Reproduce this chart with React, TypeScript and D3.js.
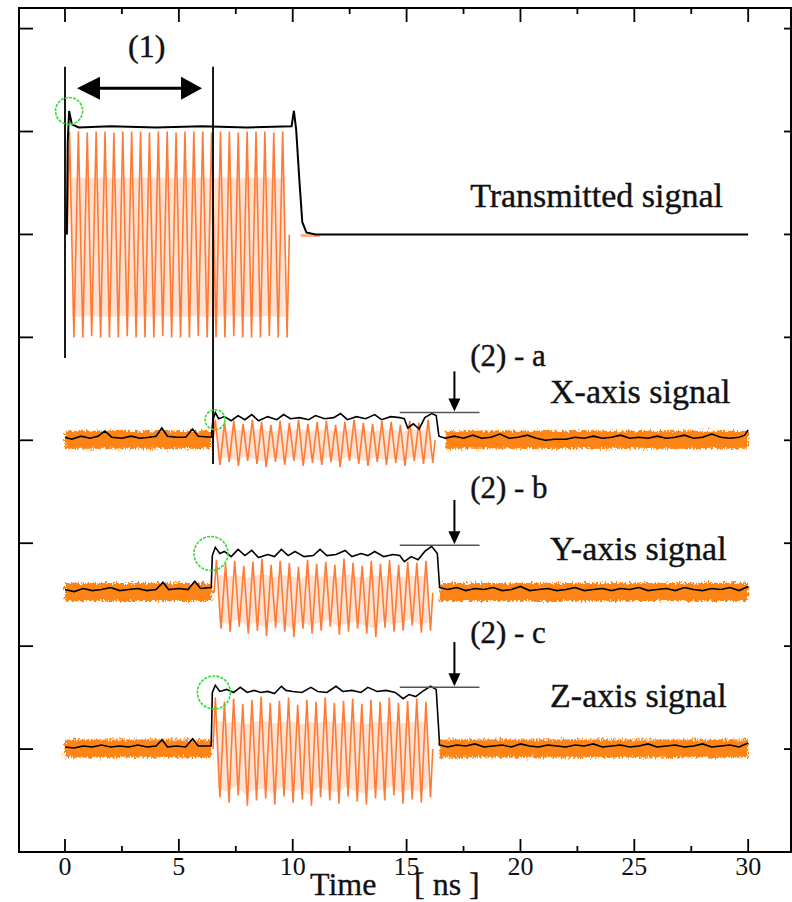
import React from 'react';
import * as d3 from 'd3';

// axis ticks (ns on x, arbitrary level units on y)
const X_TICKS = [0, 5, 10, 15, 20, 25, 30];
const X_MINOR = [2.5, 7.5, 12.5, 17.5, 22.5, 27.5];
const Y_TICKS = [1, 2, 3, 4, 5, 6, 7, 8];

// transmitted signal: black envelope [ns, level]
const TX_ENVELOPE: [number, number][] = [
    [0.08, 6.0], [0.12, 6.9], [0.18, 7.2], [0.3, 7.07], [0.6, 7.04], [2, 7.05], [4, 7.04],
    [6, 7.05], [8, 7.04], [9.95, 7.05], [10.05, 7.2], [10.15, 7.02], [10.3, 6.5], [10.42, 6.12],
    [10.6, 6.02], [11.0, 6.0], [30.0, 6.0]
];
const TX_BASE = 6.0;
const TX_SPAN = [0.1, 9.85];
const TX_TOPS = [1.0, 1.0, 0.99, 1.0, 1.0, 0.99, 1.0, 1.0, 1.0, 0.99, 1.0, 1.0, 0.99, 1.0, 1.0, 1.0, 0.99, 1.0, 1.0, 0.99, 1.0, 1.0, 1.0, 0.99, 1.0];
const TX_BOTTOMS = [-1.0, -1.0, -0.99, -1.0, -1.0, -1.0, -0.99, -1.0, -1.0, -1.0, -0.99, -1.0, -1.0, -1.0, -0.99, -1.0, -1.0, -1.0, -0.99, -1.0, -1.0, -1.0, -0.99, -1.0, -1.0];

// received signals: black trace [ns, offset above baseline]
const X_BASE = 4.0;
const X_SPAN = [6.5, 16.25];
const X_TRACE: [number, number][] = [
    [0, 0.03], [0.3, 0.01], [0.7, 0.04], [1.1, 0.02], [1.45, 0.04], [1.75, 0.09], [2.05, 0.03], [2.5, 0.02],
    [2.9, 0.04], [3.3, 0.02], [3.7, 0.03], [4.0, 0.04], [4.25, 0.12], [4.5, 0.04], [4.9, 0.03], [5.3, 0.03],
    [5.6, 0.11], [5.85, 0.04], [6.42, 0.03], [6.5, 0.2], [6.6, 0.27], [6.75, 0.21], [7.0, 0.23], [7.3, 0.19],
    [7.6, 0.24], [7.9, 0.2], [8.2, 0.25], [8.5, 0.19], [8.9, 0.23], [9.3, 0.2], [9.6, 0.25], [9.9, 0.21],
    [10.3, 0.22], [10.7, 0.2], [11.0, 0.24], [11.4, 0.21], [11.8, 0.22], [12.1, 0.26], [12.4, 0.2], [12.8, 0.23],
    [13.2, 0.21], [13.6, 0.25], [13.9, 0.2], [14.3, 0.23], [14.7, 0.22], [14.9, 0.21], [15.05, 0.12], [15.3, 0.16],
    [15.55, 0.11], [15.8, 0.22], [16.1, 0.26], [16.3, 0.24], [16.42, 0.04], [16.7, 0.02], [17.1, 0.04], [17.5, 0.02],
    [17.9, 0.05], [18.3, 0.02], [18.7, 0.03], [19.1, 0.06], [19.5, 0.02], [19.9, 0.03], [20.3, 0.05], [20.7, 0.02],
    [21.1, 0.0], [21.5, 0.01], [22.0, 0.01], [22.4, 0.03], [22.8, 0.02], [23.2, 0.04], [23.6, 0.02], [24.0, 0.03],
    [24.4, 0.05], [24.8, 0.02], [25.2, 0.03], [25.6, 0.02], [26.0, 0.04], [26.4, 0.02], [26.8, 0.03], [27.2, 0.05],
    [27.6, 0.02], [28.0, 0.03], [28.4, 0.06], [28.8, 0.03], [29.2, 0.02], [29.6, 0.03], [29.85, 0.05], [30.0, 0.1]
];
const X_TOPS = [0.2, 0.17, 0.19, 0.16, 0.2, 0.18, 0.15, 0.19, 0.17, 0.2, 0.16, 0.18, 0.19, 0.15, 0.18, 0.2, 0.17, 0.16, 0.19, 0.18, 0.15, 0.19, 0.17, 0.2];
const X_BOTTOMS = [-0.24, -0.21, -0.25, -0.2, -0.23, -0.26, -0.21, -0.24, -0.2, -0.25, -0.22, -0.24, -0.21, -0.26, -0.2, -0.23, -0.25, -0.21, -0.24, -0.22, -0.25, -0.2, -0.23, -0.22];

const Y_BASE = 2.52;
const Y_SPAN = [6.55, 16.15];
const Y_TRACE: [number, number][] = [
    [0, 0.03], [0.4, 0.01], [0.8, 0.04], [1.2, 0.02], [1.6, 0.03], [2.0, 0.05], [2.4, 0.02], [2.8, 0.03],
    [3.2, 0.04], [3.6, 0.02], [4.0, 0.03], [4.3, 0.1], [4.55, 0.03], [5.0, 0.04], [5.4, 0.03], [5.7, 0.11],
    [5.95, 0.04], [6.42, 0.05], [6.47, 0.36], [6.6, 0.44], [6.8, 0.38], [7.0, 0.4], [7.3, 0.35], [7.6, 0.42],
    [7.9, 0.36], [8.2, 0.41], [8.5, 0.34], [8.9, 0.37], [9.2, 0.35], [9.5, 0.42], [9.8, 0.36], [10.1, 0.4],
    [10.5, 0.35], [10.9, 0.36], [11.2, 0.42], [11.5, 0.36], [11.9, 0.37], [12.3, 0.41], [12.6, 0.35], [13.0, 0.38],
    [13.3, 0.36], [13.6, 0.4], [14.0, 0.35], [14.4, 0.37], [14.7, 0.36], [14.9, 0.3], [15.2, 0.35], [15.5, 0.32],
    [15.8, 0.4], [16.1, 0.45], [16.35, 0.38], [16.45, 0.05], [16.8, 0.03], [17.2, 0.05], [17.6, 0.02], [18.0, 0.04],
    [18.4, 0.03], [18.8, 0.05], [19.2, 0.02], [19.6, 0.03], [20.0, 0.06], [20.4, 0.02], [20.8, 0.03], [21.2, 0.04],
    [21.6, 0.02], [22.0, 0.03], [22.4, 0.05], [22.8, 0.02], [23.2, 0.03], [23.6, 0.04], [24.0, 0.02], [24.4, 0.04],
    [24.8, 0.03], [25.2, 0.05], [25.6, 0.02], [26.0, 0.03], [26.4, 0.04], [26.8, 0.02], [27.2, 0.05], [27.6, 0.03],
    [28.0, 0.02], [28.4, 0.04], [28.8, 0.03], [29.2, 0.05], [29.6, 0.02], [30.0, 0.06]
];
const Y_TOPS = [0.32, 0.28, 0.31, 0.26, 0.3, 0.33, 0.27, 0.31, 0.29, 0.25, 0.32, 0.28, 0.3, 0.27, 0.33, 0.29, 0.26, 0.31, 0.28, 0.32, 0.27, 0.3, 0.29, 0.31];
const Y_BOTTOMS = [-0.35, -0.38, -0.33, -0.4, -0.37, -0.42, -0.34, -0.38, -0.43, -0.35, -0.4, -0.37, -0.33, -0.41, -0.38, -0.35, -0.4, -0.43, -0.34, -0.38, -0.37, -0.32, -0.39, -0.37];

const Z_BASE = 1.0;
const Z_SPAN = [6.5, 16.15];
const Z_TRACE: [number, number][] = [
    [0, 0.02], [0.4, 0.01], [0.8, 0.03], [1.2, 0.02], [1.6, 0.04], [2.0, 0.02], [2.4, 0.03], [2.8, 0.02],
    [3.2, 0.04], [3.6, 0.02], [4.0, 0.03], [4.26, 0.09], [4.5, 0.02], [4.9, 0.03], [5.3, 0.02], [5.6, 0.1],
    [5.85, 0.03], [6.42, 0.03], [6.47, 0.55], [6.6, 0.62], [6.8, 0.56], [7.1, 0.58], [7.4, 0.55], [7.7, 0.6],
    [8.0, 0.55], [8.3, 0.57], [8.6, 0.55], [8.9, 0.56], [9.2, 0.54], [9.5, 0.61], [9.7, 0.57], [10.0, 0.56],
    [10.4, 0.55], [10.8, 0.6], [11.1, 0.56], [11.5, 0.55], [11.9, 0.61], [12.2, 0.56], [12.6, 0.57], [13.0, 0.55],
    [13.3, 0.6], [13.7, 0.56], [14.1, 0.57], [14.5, 0.55], [14.85, 0.49], [15.1, 0.53], [15.4, 0.51], [15.7, 0.56],
    [16.05, 0.61], [16.3, 0.58], [16.45, 0.04], [16.8, 0.02], [17.2, 0.04], [17.6, 0.03], [18.0, 0.05], [18.4, 0.02],
    [18.8, 0.03], [19.2, 0.04], [19.6, 0.02], [20.0, 0.05], [20.4, 0.03], [20.8, 0.02], [21.2, 0.04], [21.6, 0.03],
    [22.0, 0.02], [22.4, 0.04], [22.8, 0.03], [23.2, 0.05], [23.6, 0.02], [24.0, 0.03], [24.4, 0.04], [24.8, 0.02],
    [25.2, 0.03], [25.6, 0.05], [26.0, 0.02], [26.4, 0.03], [26.8, 0.04], [27.2, 0.02], [27.6, 0.03], [28.0, 0.05],
    [28.4, 0.02], [28.8, 0.03], [29.2, 0.04], [29.6, 0.02], [30.0, 0.06]
];
const Z_TOPS = [0.5, 0.46, 0.49, 0.44, 0.48, 0.51, 0.45, 0.47, 0.5, 0.43, 0.48, 0.46, 0.5, 0.45, 0.47, 0.49, 0.44, 0.48, 0.46, 0.5, 0.45, 0.47, 0.49, 0.46];
const Z_BOTTOMS = [-0.47, -0.52, -0.45, -0.55, -0.5, -0.48, -0.54, -0.46, -0.52, -0.49, -0.55, -0.47, -0.5, -0.53, -0.46, -0.51, -0.54, -0.48, -0.5, -0.45, -0.53, -0.49, -0.52, -0.47];

// annotations
const MARK_LINES = [{ t: 0, from: 4.8, to: 7.63 }, { t: 6.5, from: 3.77, to: 7.63 }];
const SPAN_ARROW = { from: 0, to: 6.5, level: 7.42 };
const CIRCLES = [{ t: 0.18, v: 7.2, r: 13.5 }, { t: 6.59, v: 4.2, r: 10 }, { t: 6.41, v: 2.9, r: 17 }, { t: 6.54, v: 1.55, r: 16.5 }];
const REF_LINES = [4.27, 2.98, 1.6];
const REF_SPAN = [14.7, 18.2];
const ARROW_T = 17.1;
const ARROW_TOP = [4.67, 3.42, 2.04];
const TAGS = ['(2) - a', '(2) - b', '(2) - c'];
const TAG_LEVELS = [4.72, 3.44, 2.03];
const NAMES = ['Transmitted signal', 'X-axis signal', 'Y-axis signal', 'Z-axis signal'];
const NAME_POS = [[17.79, 6.27], [21.3, 4.36], [21.3, 2.84], [21.3, 1.41]];

const FONT = '"Liberation Serif", "DejaVu Serif", serif';
const ORANGE = '#ff7a35';
const PALE = '#ffcdb3';
const BAND = '#ff8418';

const x = d3.scaleLinear().domain([-2.02, 31.88]).range([19, 791]);
const y = d3.scaleLinear().domain([0, 8.2]).range([852, 8]);

const line = d3.line<[number, number]>().x(d => x(d[0])).y(d => y(d[1]));
const area = d3.area<[number, number, number]>().x(d => x(d[0])).y0(d => y(d[1])).y1(d => y(d[2]));

function carrier(span: number[], tops: number[], bottoms: number[], base: number): [number, number][] {
    const n = tops.length;
    const p = (span[1] - span[0]) / n;
    const pts: [number, number][] = [[span[0], base]];
    tops.forEach((tp, i) => {
        pts.push([span[0] + (i + 0.25) * p, base + tp]);
        pts.push([span[0] + (i + 0.75) * p, base + bottoms[i]]);
    });
    pts.push([span[1], base]);
    return pts;
}

// pale body inside the carrier, between the inner parts of each swing
function carrierBody(span: number[], tops: number[], bottoms: number[], base: number): [number, number, number][] {
    const n = tops.length;
    const p = (span[1] - span[0]) / n;
    return tops.map((tp, i) => [span[0] + (i + 0.5) * p, base + bottoms[i] * 0.8, base + tp * 0.55]);
}

const shift = (tr: [number, number][], base: number): [number, number][] => tr.map(d => [d[0], base + d[1]]);

const RX = [
    { base: X_BASE, span: X_SPAN, trace: X_TRACE, tops: X_TOPS, bottoms: X_BOTTOMS },
    { base: Y_BASE, span: Y_SPAN, trace: Y_TRACE, tops: Y_TOPS, bottoms: Y_BOTTOMS },
    { base: Z_BASE, span: Z_SPAN, trace: Z_TRACE, tops: Z_TOPS, bottoms: Z_BOTTOMS },
];

const txt = { fontFamily: FONT };

export default function App() {
    const ax0 = x(SPAN_ARROW.from) + 12;
    const ax1 = x(SPAN_ARROW.to) - 11;
    const ay = y(SPAN_ARROW.level);
    return (
        <svg width={792} height={902} style={{ position: 'absolute', left: 0, top: 0, background: '#fff' }}>
            <defs>
                <filter id="rough" filterUnits="userSpaceOnUse" x={0} y={0} width={792} height={902}>
                    <feTurbulence type="fractalNoise" baseFrequency="0.6 0.3" numOctaves={2} seed={3} result="n" />
                    <feDisplacementMap in="SourceGraphic" in2="n" scale={8} xChannelSelector="R" yChannelSelector="G" />
                </filter>
            </defs>
            <rect x={0} y={0} width={792} height={902} fill="#fff" />

            {/* transmitted carrier + envelope */}
            <path d={area(carrierBody(TX_SPAN, TX_TOPS, TX_BOTTOMS, TX_BASE)) || ''} fill={PALE} opacity={0.6} />
            <path d={line(carrier(TX_SPAN, TX_TOPS, TX_BOTTOMS, TX_BASE)) || ''} fill="none" stroke={ORANGE} strokeWidth={1.6} />
            <path d={line([[10.35, TX_BASE - 0.01], [11.2, TX_BASE - 0.01]]) || ''} stroke="#ffb08a" strokeWidth={3} />
            <path d={line(TX_ENVELOPE) || ''} fill="none" stroke="#000" strokeWidth={2} />

            {/* received signals */}
            {RX.map((r, i) => {
                const pre = r.trace.filter(d => d[0] < r.span[0] - 0.06);
                const post = r.trace.filter(d => d[0] >= r.span[1] + 0.28);
                return (
                    <g key={i}>
                        {[pre, post].map((seg, j) => (
                            <path key={j}
                                d={line([[seg[0][0], r.base + 0.005], [seg[seg.length - 1][0], r.base + 0.005]]) || ''}
                                fill="none" stroke={BAND} strokeWidth={18} filter="url(#rough)" />
                        ))}
                        <path d={area(carrierBody(r.span, r.tops, r.bottoms, r.base)) || ''} fill={PALE} opacity={0.6} />
                        <path d={line(carrier(r.span, r.tops, r.bottoms, r.base)) || ''} fill="none" stroke={ORANGE} strokeWidth={1.6} />
                        <path d={line(shift(r.trace, r.base)) || ''} fill="none" stroke="#000" strokeWidth={1.6} />
                        <line x1={x(REF_SPAN[0])} x2={x(REF_SPAN[1])} y1={y(REF_LINES[i])} y2={y(REF_LINES[i])}
                            stroke="#555" strokeWidth={1.6} />
                        <line x1={x(ARROW_T)} x2={x(ARROW_T)} y1={y(ARROW_TOP[i])} y2={y(REF_LINES[i]) - 12}
                            stroke="#000" strokeWidth={2} />
                        <path d={`M${x(ARROW_T) - 6},${y(REF_LINES[i]) - 14} L${x(ARROW_T) + 6},${y(REF_LINES[i]) - 14} L${x(ARROW_T)},${y(REF_LINES[i]) - 1} Z`} fill="#000" />
                        <text x={x(17.79)} y={y(TAG_LEVELS[i])} fontSize={31} fill="#111" stroke="#111" strokeWidth={0.4} style={txt}>{TAGS[i]}</text>
                    </g>
                );
            })}

            {/* marker lines and span arrow */}
            {MARK_LINES.map((m, i) => (
                <line key={i} x1={x(m.t)} x2={x(m.t)} y1={y(m.from)} y2={y(m.to)} stroke="#000" strokeWidth={1.8} />
            ))}
            <line x1={ax0 + 15} x2={ax1 - 15} y1={ay} y2={ay} stroke="#000" strokeWidth={3} />
            <path d={`M${ax0},${ay} L${ax0 + 23},${ay - 11.5} L${ax0 + 23},${ay + 11.5} Z`} fill="#000" />
            <path d={`M${ax1},${ay} L${ax1 - 21},${ay - 11.5} L${ax1 - 21},${ay + 11.5} Z`} fill="#000" />
            <text x={x(2.77)} y={y(7.72)} fontSize={32} fill="#111" stroke="#111" strokeWidth={0.4} style={txt}>(1)</text>

            {/* green circles */}
            {CIRCLES.map((c, i) => (
                <circle key={i} cx={x(c.t)} cy={y(c.v)} r={c.r} fill="none" stroke="#2ee02e" strokeWidth={1.6} strokeDasharray="3 1.2" />
            ))}

            {/* signal names */}
            {NAMES.map((n, i) => (
                <text key={n} x={x(NAME_POS[i][0])} y={y(NAME_POS[i][1])} fontSize={34} fill="#111" stroke="#111" strokeWidth={0.4} style={txt}>{n}</text>
            ))}

            {/* frame and ticks */}
            <rect x={19} y={8} width={772} height={844} fill="none" stroke="#000" strokeWidth={2} />
            {X_TICKS.map(t => (
                <g key={t}>
                    <line x1={x(t)} x2={x(t)} y1={852} y2={839} stroke="#000" strokeWidth={1.8} />
                    <line x1={x(t)} x2={x(t)} y1={8} y2={22} stroke="#000" strokeWidth={1.8} />
                    <text x={x(t)} y={875} fontSize={26} textAnchor="middle" fill="#111" style={txt}>{t}</text>
                </g>
            ))}
            {X_MINOR.map(t => (
                <g key={t}>
                    <line x1={x(t)} x2={x(t)} y1={852} y2={846} stroke="#000" strokeWidth={1.8} />
                    <line x1={x(t)} x2={x(t)} y1={8} y2={14} stroke="#000" strokeWidth={1.8} />
                </g>
            ))}
            {Y_TICKS.map(v => (
                <g key={v}>
                    <line x1={19} x2={33} y1={y(v)} y2={y(v)} stroke="#000" strokeWidth={1.8} />
                    <line x1={791} x2={784} y1={y(v)} y2={y(v)} stroke="#000" strokeWidth={1.8} />
                </g>
            ))}
            <text x={310} y={895} fontSize={32} fill="#111" stroke="#111" strokeWidth={0.3} style={txt}>Time</text>
            <text x={414} y={895} fontSize={32} fill="#111" stroke="#111" strokeWidth={0.3} style={txt}>[ ns ]</text>
        </svg>
    );
}
